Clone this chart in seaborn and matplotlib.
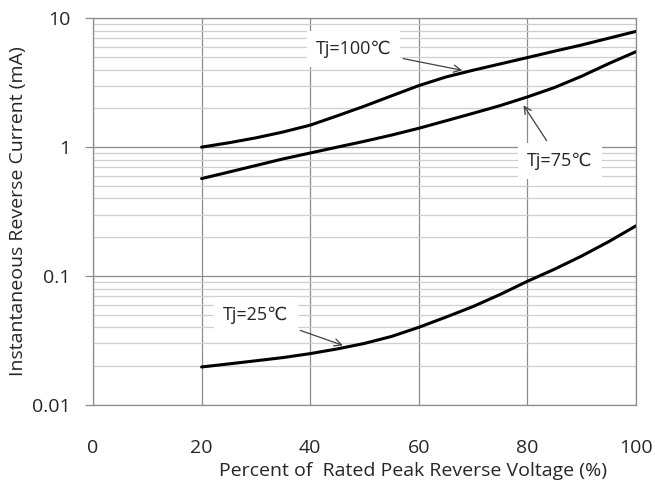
import matplotlib
matplotlib.use("Agg")
import matplotlib.pyplot as plt
import matplotlib.ticker as mticker
import seaborn as sns
import pandas as pd

percent = [20, 25, 30, 35, 40, 45, 50, 55, 60, 65, 70, 75, 80, 85, 90, 95, 100]
tj100 = [1.0, 1.08, 1.18, 1.31, 1.48, 1.75, 2.08, 2.5, 3.0, 3.5, 3.95, 4.42, 4.95, 5.55, 6.2, 7.0, 7.9]
tj75 = [0.57, 0.64, 0.72, 0.81, 0.9, 1.0, 1.11, 1.24, 1.4, 1.6, 1.83, 2.1, 2.45, 2.9, 3.55, 4.45, 5.5]
tj25 = [0.0197, 0.0208, 0.022, 0.0233, 0.025, 0.0272, 0.030, 0.034, 0.040, 0.048,
        0.058, 0.072, 0.091, 0.113, 0.143, 0.185, 0.245]

x_ticks = [0, 20, 40, 60, 80, 100]
y_ticks = [0.01, 0.1, 1, 10]
y_tick_labels = ["0.01", "0.1", "1", "10"]

sns.set_style("white")
plt.rcParams['font.family'] = ['Open Sans', 'DejaVu Sans']

df = pd.DataFrame({
    'percent': percent * 3,
    'current': tj100 + tj75 + tj25,
    'curve': ['100'] * len(percent) + ['75'] * len(percent) + ['25'] * len(percent),
})

fig = plt.figure(figsize=(6.55, 4.92), dpi=100)
ax = fig.add_axes([0.142, 0.177, 0.829, 0.786])

sns.lineplot(data=df, x='percent', y='current', units='curve', estimator=None,
             color='black', linewidth=2.2, ax=ax, legend=False)

ax.set_yscale('log')
ax.set_xlim(0, 100)
ax.set_ylim(0.01, 10)
ax.set_xticks(x_ticks)
ax.set_yticks(y_ticks)
ax.set_yticklabels(y_tick_labels)
ax.yaxis.set_minor_locator(mticker.LogLocator(base=10, subs=range(2, 10)))
ax.yaxis.set_minor_formatter(mticker.NullFormatter())

ax.grid(True, which='major', axis='both', color='#8c8c8c', linewidth=0.9)
ax.grid(True, which='minor', axis='y', color='#cfcfcf', linewidth=0.9)
ax.set_axisbelow(True)
for s in ax.spines.values():
    s.set_color('#8c8c8c')
    s.set_linewidth(0.9)

ax.tick_params(axis='y', which='major', left=True, length=6, color='#8c8c8c',
               width=0.9, pad=10, labelsize=14)
ax.tick_params(axis='y', which='minor', left=False)
ax.tick_params(axis='x', which='major', bottom=False, pad=21, labelsize=14)

ax.set_xlabel('Percent of  Rated Peak Reverse Voltage (%)', fontsize=14, labelpad=3)
ax.xaxis.set_label_coords(0.59, -0.148)
ax.set_ylabel('Instantaneous Reverse Current (mA)', fontsize=14, labelpad=4)

box = dict(boxstyle='square,pad=0.5', facecolor='white', edgecolor='none')
arrow = dict(arrowstyle='->', color='#404040', linewidth=0.9)
ax.annotate('Tj=100℃', xy=(68.5, 3.9), xytext=(48, 5.8), fontsize=13,
            ha='center', va='center', bbox=box, arrowprops=arrow)
ax.annotate('Tj=75℃', xy=(79, 2.2), xytext=(86, 0.78), fontsize=13,
            ha='center', va='center', bbox=box, arrowprops=arrow)
ax.annotate('Tj=25℃', xy=(46.5, 0.0285), xytext=(30, 0.05), fontsize=13,
            ha='center', va='center', bbox=box, arrowprops=arrow)

fig.savefig('out.png', dpi=100)
